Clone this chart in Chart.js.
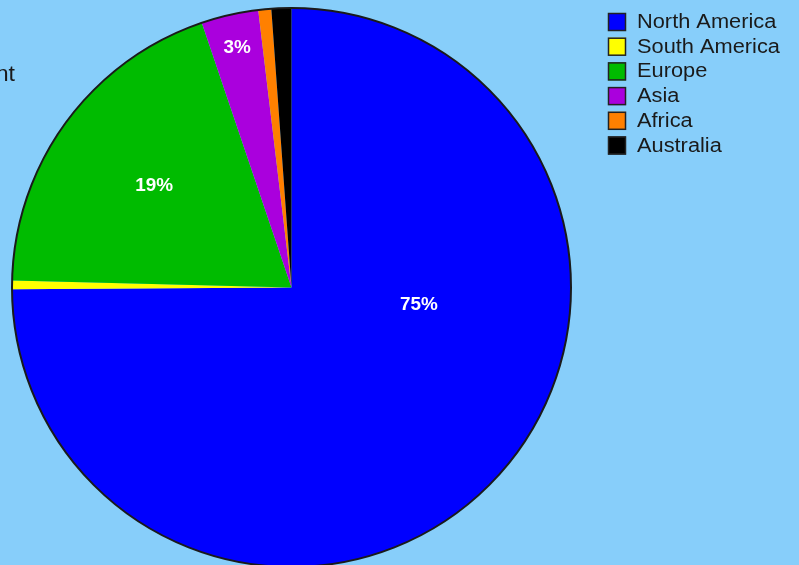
<!DOCTYPE html>
<html>
<head>
<meta charset="utf-8">
<script src="https://cdn.jsdelivr.net/npm/chart.js@4.4.0/dist/chart.umd.min.js"></script>
<style>
  html, body { margin: 0; padding: 0; background: #87CEFA; overflow: hidden; }
  #wrap { position: absolute; left: 0; top: 0; width: 799px; height: 580px; }
</style>
</head>
<body>
<div id="wrap"><canvas id="chart"></canvas></div>
<script>
// Chart data
const continents = ['North America', 'South America', 'Europe', 'Asia', 'Africa', 'Australia'];
const shares = [74.9, 0.5, 19.4, 3.3, 0.75, 1.15];
const sliceColors = ['#0000FF', '#FFFF00', '#00BB00', '#AA00DD', '#FF8000', '#000000'];
const titleText = 'Amount';

// Labels for the big slices: where along the slice (0..1) and how far out (0..1)
const labelSpots = [[0.363, 0.46], null, [0.5, 0.61], [0.5, 0.88], null, null];

// text drawn a bit wider than the font, like the original
function wideText(ctx, text, x, y, sx) {
  ctx.save();
  ctx.translate(x, y);
  ctx.scale(sx, 1);
  ctx.fillText(text, 0, 0);
  ctx.restore();
}

// Outer ring, slice labels, legend and cut-off title
const pieDecor = {
  id: 'pieDecor',
  afterDatasetsDraw(chart) {
    const ctx = chart.ctx;
    const arcs = chart.getDatasetMeta(0).data;
    const first = arcs[0];
    const total = shares.reduce((a, b) => a + b, 0);

    ctx.save();
    ctx.beginPath();
    ctx.arc(first.x, first.y, first.outerRadius, 0, Math.PI * 2);
    ctx.lineWidth = 2;
    ctx.strokeStyle = '#1a1a1a';
    ctx.stroke();

    ctx.fillStyle = '#ffffff';
    ctx.font = 'bold 18px "Liberation Sans", Arial, sans-serif';
    ctx.textAlign = 'center';
    ctx.textBaseline = 'middle';
    arcs.forEach((arc, i) => {
      const spot = labelSpots[i];
      if (!spot) return;
      const ang = arc.startAngle + (arc.endAngle - arc.startAngle) * spot[0];
      const r = arc.outerRadius * spot[1];
      const pct = Math.round(shares[i] / total * 100) + '%';
      wideText(ctx, pct, arc.x + Math.cos(ang) * r, arc.y + Math.sin(ang) * r, 1.05);
    });

    // legend
    ctx.font = '20px "Liberation Sans", Arial, sans-serif';
    ctx.textAlign = 'left';
    continents.forEach((name, i) => {
      const y = 13 + i * 24.7;
      ctx.fillStyle = sliceColors[i];
      ctx.fillRect(608, y, 18, 18);
      ctx.lineWidth = 1.5;
      ctx.strokeStyle = '#222';
      ctx.strokeRect(608.5, y + 0.5, 17, 17);
      ctx.fillStyle = '#1a1a1a';
      wideText(ctx, name, 637, y + 9.5, 1.09);
    });

    ctx.font = '22px "Liberation Sans", Arial, sans-serif';
    ctx.textAlign = 'right';
    ctx.textBaseline = 'alphabetic';
    wideText(ctx, titleText, 15, 81, 1.05);
    ctx.restore();
  }
};

new Chart('chart', {
  type: 'pie',
  data: {
    labels: continents,
    datasets: [{
      data: shares,
      backgroundColor: sliceColors,
      borderWidth: 0,
    }],
  },
  options: {
    responsive: true,
    maintainAspectRatio: false,
    animation: false,
    layout: { padding: { left: 12, top: 8, right: 228, bottom: 13 } },
    plugins: {
      legend: { display: false },
      tooltip: { enabled: false },
    },
  },
  plugins: [pieDecor],
});
</script>
</body>
</html>
